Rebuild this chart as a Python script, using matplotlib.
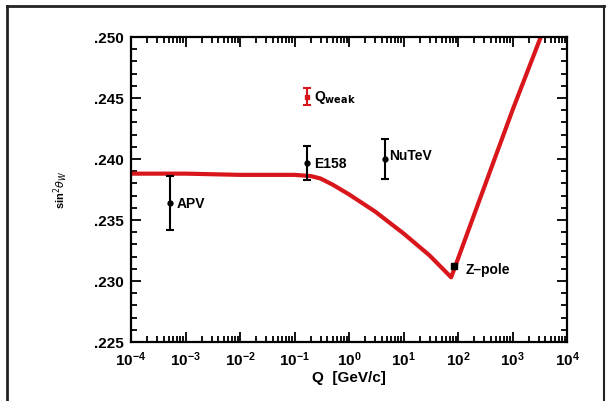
import matplotlib
matplotlib.use("Agg")
import matplotlib.pyplot as plt
from matplotlib.ticker import LogLocator, MultipleLocator, FixedLocator, FixedFormatter
from matplotlib.lines import Line2D

# Running curve of sin^2(theta_W)
curve_q = [1e-4, 1e-3, 1e-2, 0.1, 0.2, 0.3, 0.5, 1, 3, 10, 30, 75, 200, 1000, 3300]
curve_s = [0.2388, 0.2388, 0.2387, 0.2387, 0.2386, 0.2384, 0.2379, 0.2371, 0.2357, 0.2339, 0.2321, 0.2303, 0.2355, 0.2440, 0.2500]

# Measurements (black)
meas_names = ["APV", "E158", "NuTeV"]
meas_q = [5.1e-4, 0.17, 4.5]
meas_s = [0.2364, 0.2397, 0.2400]
meas_err = [0.0022, 0.0014, 0.0016]

# Q_weak (red)
qweak_q = [0.17]
qweak_s = [0.2451]
qweak_err = [0.0007]

# Z-pole
zpole_q = [85]
zpole_s = [0.2312]

ytick_vals = [0.225, 0.230, 0.235, 0.240, 0.245, 0.250]
ytick_labels = [".225", ".230", ".235", ".240", ".245", ".250"]

plt.rcParams['font.family'] = ['Liberation Sans', 'DejaVu Sans']

W, H = 611, 402
fig = plt.figure(figsize=(W / 100, H / 100), dpi=100)
ax = fig.add_axes([131 / W, 1 - 343 / H, (567 - 131) / W, (343 - 38) / H])

red = "#d8161b"
ax.plot(curve_q, curve_s, color=red, lw=3, solid_capstyle='butt', zorder=2)

ax.errorbar(meas_q, meas_s, yerr=meas_err, fmt='o', ms=3.5, color='black',
            ecolor='black', elinewidth=1.5, capsize=3, capthick=1.5, zorder=3)
ax.errorbar(qweak_q, qweak_s, yerr=qweak_err, fmt='s', ms=3, color=red,
            ecolor=red, elinewidth=1.5, capsize=3, capthick=1.5, zorder=3)
ax.plot(zpole_q, zpole_s, 's', color='black', ms=4, zorder=4)

txt_kw = dict(fontsize=10, fontweight='bold', va='center', ha='left')
ax.text(meas_q[0] * 1.35, meas_s[0], meas_names[0], **txt_kw)
ax.text(meas_q[1] * 1.35, meas_s[1], meas_names[1], **txt_kw)
ax.text(meas_q[2] * 1.2, meas_s[2] + 0.0003, meas_names[2], **txt_kw)
ax.text(qweak_q[0] * 1.35, qweak_s[0], r"Q$_{\mathbf{weak}}$", **txt_kw)
ax.text(zpole_q[0] * 1.6, zpole_s[0] - 0.0002, "Z\u2013pole", **txt_kw)

ax.set_xscale('log')
ax.set_xlim(1e-4, 1e4)
ax.set_ylim(0.225, 0.250)
ax.xaxis.set_major_locator(LogLocator(base=10, numticks=20))
ax.xaxis.set_minor_locator(LogLocator(base=10, subs=range(2, 10), numticks=100))
ax.yaxis.set_major_locator(FixedLocator(ytick_vals))
ax.yaxis.set_major_formatter(FixedFormatter(ytick_labels))
ax.yaxis.set_minor_locator(MultipleLocator(0.001))

ax.tick_params(which='both', direction='in', top=True, right=True, width=1.3, colors='black')
ax.tick_params(which='major', length=7, labelsize=11, pad=5)
ax.tick_params(which='minor', length=4)
for lab in ax.get_xticklabels() + ax.get_yticklabels():
    lab.set_fontweight('bold')
for s in ax.spines.values():
    s.set_linewidth(1.6)

ax.set_xlabel("Q  [GeV/c]", fontsize=11, fontweight='bold', labelpad=2)
fig.text(61 / W, 1 - 190 / H, r"sin$^{2}\theta_{W}$", rotation=90, fontsize=8,
         fontweight='bold', ha='center', va='center')

# outer frame
fc = "#222222"
fig.add_artist(Line2D([7 / W, 7 / W], [0, 1 - 7 / H], color=fc, lw=2))
fig.add_artist(Line2D([7 / W, 604 / W], [1 - 7 / H, 1 - 7 / H], color=fc, lw=2))
fig.add_artist(Line2D([604 / W, 604 / W], [0, 1 - 7 / H], color=fc, lw=1.5))

fig.savefig("out.png", dpi=100)
